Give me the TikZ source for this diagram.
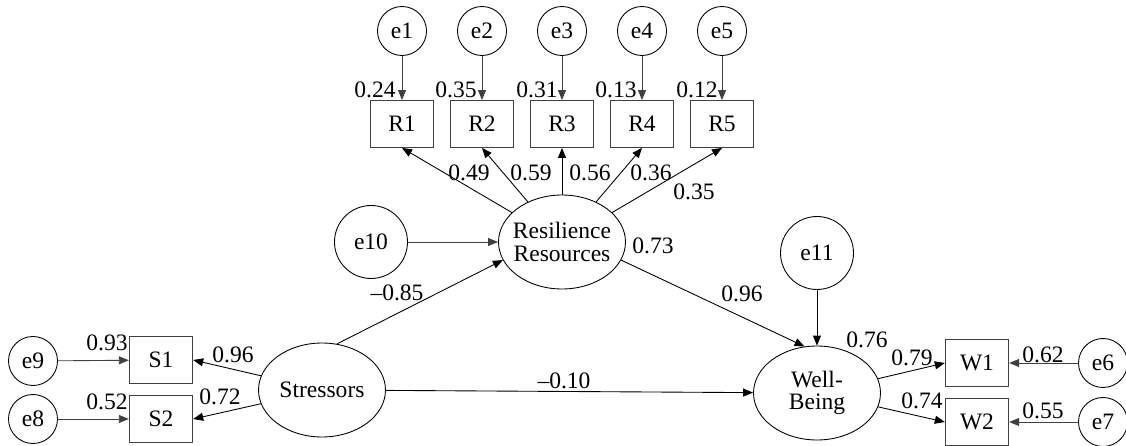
\documentclass[tikz,border=0pt]{standalone}
\usepackage{fontspec}
\setmainfont{Liberation Serif}
\usetikzlibrary{shapes.geometric,arrows.meta}

\tikzset{
  errs/.style={circle, draw, minimum size=0.98cm, inner sep=0pt},
  errb/.style={circle, draw, minimum size=1.46cm, inner sep=0pt},
  obs/.style={rectangle, draw=black!75, minimum width=1.27cm, minimum height=0.94cm, inner sep=0pt},
  latent/.style={ellipse, draw, minimum width=2.54cm, minimum height=1.88cm, inner ysep=0pt, inner xsep=-0.09cm, align=center},
  path/.style={-{Triangle[length=0.2cm,width=0.16cm]}, line width=0.5pt},
  epath/.style={path, draw=black!75},
  coef/.style={anchor=base, inner sep=0pt}
}

\begin{document}
\begin{tikzpicture}[x=0.02cm, y=-0.02cm, font=\fontsize{13.4}{12.6}\selectfont, line width=0.5pt]
        \useasboundingbox (0,0) rectangle (1126,446);

        % Nodes
        \node (e1) [errs] at (402, 31) {e1};
        \node (e2) [errs] at (482, 31) {e2};
        \node (e3) [errs] at (562, 31) {e3};
        \node (e4) [errs] at (642, 31) {e4};
        \node (e5) [errs] at (722, 31) {e5};
        \node (r1) [obs] at (402, 124) {R1};
        \node (r2) [obs] at (482, 124) {R2};
        \node (r3) [obs] at (562, 124) {R3};
        \node (r4) [obs] at (642, 124) {R4};
        \node (r5) [obs] at (722, 124) {R5};
        \node (res) [latent] at (562, 242) {Resilience\\Resources};
        \node (e10) [errb] at (371, 242) {e10};
        \node (e11) [errb] at (817, 253) {e11};
        \node (str) [latent] at (322, 390) {Stressors};
        \node (wb) [latent] at (817, 393) {Well-\\Being};
        \node (s1) [obs] at (161, 360) {S1};
        \node (s2) [obs] at (161, 419) {S2};
        \node (e9) [errs] at (33, 361) {e9};
        \node (e8) [errs] at (33, 419) {e8};
        \node (w1) [obs] at (977, 363) {W1};
        \node (w2) [obs] at (977, 422) {W2};
        \node (e6) [errs] at (1103, 363) {e6};
        \node (e7) [errs] at (1103, 422) {e7};

        % Edges
        \draw[epath] (e1) -- (r1);
        \draw[epath] (e2) -- (r2);
        \draw[epath] (e3) -- (r3);
        \draw[epath] (e4) -- (r4);
        \draw[epath] (e5) -- (r5);
        \draw[path] (res) -- (r1.south);
        \draw[path] (res) -- (r2.south);
        \draw[path] (res) -- (r3.south);
        \draw[path] (res) -- (r4.south);
        \draw[path] (res) -- (r5.south);
        \draw[epath] (e10) -- (res);
        \draw[path] (str.72) -- (res.197);
        \draw[path] (str) -- (wb);
        \draw[path] (res.-17) -- (wb.105);
        \draw[path] (e11) -- (wb);
        \draw[path] (str) -- (s1.east);
        \draw[path] (str) -- (s2.east);
        \draw[epath] (e9) -- (s1);
        \draw[epath] (e8) -- (s2);
        \draw[path] (wb) -- (w1.west);
        \draw[path] (wb) -- (w2.west);
        \draw[epath] (e6) -- (w1);
        \draw[epath] (e7) -- (w2);

        % Coefficients
        \node (c1) [coef] at (375, 98) {0.24};
        \node (c2) [coef] at (456, 98) {0.35};
        \node (c3) [coef] at (537, 98) {0.31};
        \node (c4) [coef] at (616, 98) {0.13};
        \node (c5) [coef] at (697, 98) {0.12};
        \node (l1) [coef] at (469, 180) {0.49};
        \node (l2) [coef] at (531, 180) {0.59};
        \node (l3) [coef] at (590, 180) {0.56};
        \node (l4) [coef] at (651, 180) {0.36};
        \node (l5) [coef] at (694, 199) {0.35};
        \node (rsq) [coef] at (653, 253) {0.73};
        \node (b1) [coef] at (397, 300) {--0.85};
        \node (b2) [coef] at (742, 301) {0.96};
        \node (b3) [coef] at (564, 388) {--0.10};
        \node (wsq) [coef] at (867, 347) {0.76};
        \node (l6) [coef] at (912, 365) {0.79};
        \node (l7) [coef] at (922, 408) {0.74};
        \node (c6) [coef] at (1043, 362) {0.62};
        \node (c7) [coef] at (1043, 418) {0.55};
        \node (l8) [coef] at (233, 362) {0.96};
        \node (l9) [coef] at (220, 404) {0.72};
        \node (c9) [coef] at (107, 350) {0.93};
        \node (c8) [coef] at (107, 409) {0.52};

    \end{tikzpicture}
\end{document}
